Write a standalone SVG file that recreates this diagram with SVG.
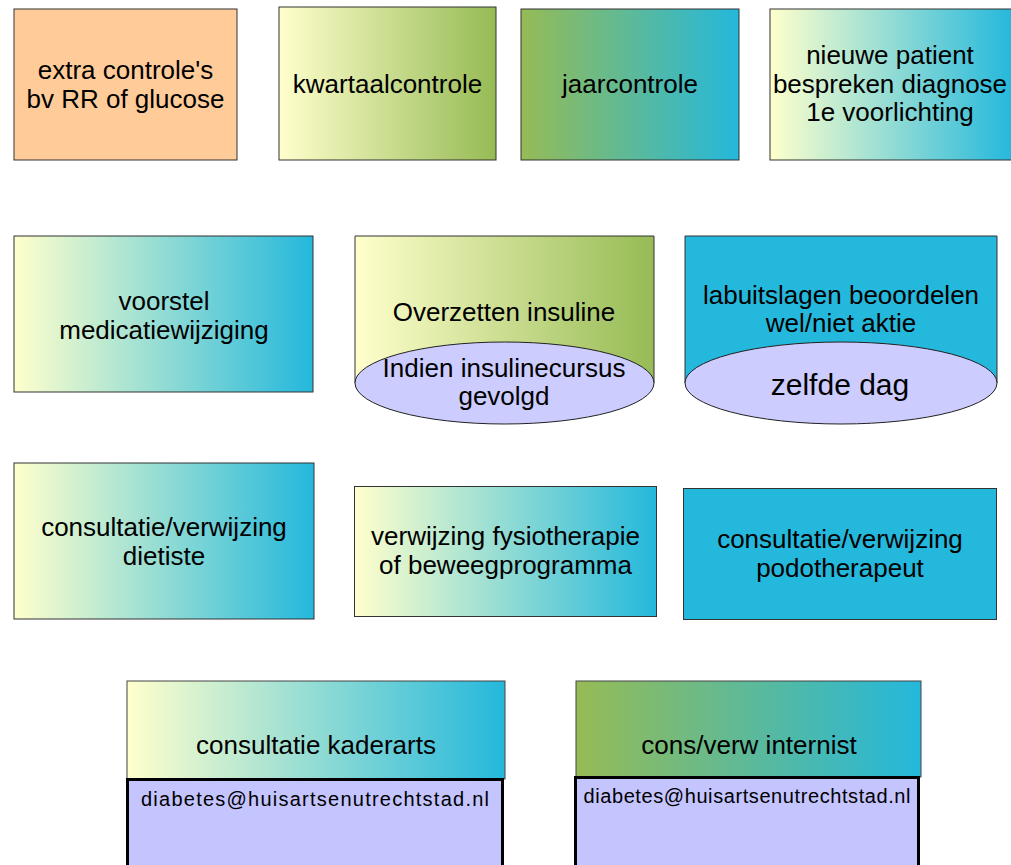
<svg xmlns="http://www.w3.org/2000/svg" width="1011" height="865" viewBox="0 0 1011 865">
<style>
  .box { stroke: #333333; stroke-width: 1; }
  .ell { fill: #CCCCFF; stroke: #222222; stroke-width: 1; }
  .mail { fill: #C4C4FF; stroke: #000000; stroke-width: 3; }
  text { font-family: "Liberation Sans", Arial, sans-serif; font-size: 26px; fill: #000000; text-anchor: middle; }
  .big { font-size: 30px; }
  .small { font-size: 20px; }
</style>
<defs>
  <linearGradient id="gYG" x1="0" y1="0" x2="1" y2="0">
    <stop offset="0" stop-color="#FFFFCC"/>
    <stop offset="1" stop-color="#96BB55"/>
  </linearGradient>
  <linearGradient id="gGC" x1="0" y1="0" x2="1" y2="0">
    <stop offset="0" stop-color="#96BB55"/>
    <stop offset="1" stop-color="#24B8DC"/>
  </linearGradient>
  <linearGradient id="gYC" x1="0" y1="0" x2="1" y2="0">
    <stop offset="0" stop-color="#FFFFCC"/>
    <stop offset="1" stop-color="#24B8DC"/>
  </linearGradient>
</defs>
<rect x="0" y="0" width="1011" height="865" fill="#FFFFFF"/>
<g id="connectors"/>

<g id="extra-controles">
  <rect class="box" x="14" y="9" width="223" height="151" fill="#FFCC99"/>
  <text x="125.5" y="79">extra controle's</text>
  <text x="125.5" y="108">bv RR of glucose</text>
</g>

<g id="kwartaalcontrole">
  <rect class="box" x="279" y="7" width="217" height="153" fill="url(#gYG)"/>
  <text x="387.5" y="93">kwartaalcontrole</text>
</g>

<g id="jaarcontrole">
  <rect class="box" x="521" y="9" width="218" height="151" fill="url(#gGC)"/>
  <text x="630" y="93">jaarcontrole</text>
</g>

<g id="nieuwe-patient">
  <rect class="box" x="770" y="9" width="244" height="151" fill="url(#gYC)"/>
  <text x="890" y="64">nieuwe patient</text>
  <text x="890" y="93">bespreken diagnose</text>
  <text x="890" y="121">1e voorlichting</text>
</g>

<g id="voorstel-medicatie">
  <rect class="box" x="14" y="236" width="299" height="156" fill="url(#gYC)"/>
  <text x="164" y="310">voorstel</text>
  <text x="164" y="339">medicatiewijziging</text>
</g>

<g id="overzetten-insuline">
  <path class="box" d="M355,383 V236 H654 V383" fill="url(#gYG)"/>
  <ellipse class="ell" cx="504.5" cy="383" rx="149.5" ry="41"/>
  <text x="504" y="321">Overzetten insuline</text>
  <text x="504" y="377">Indien insulinecursus</text>
  <text x="504" y="405">gevolgd</text>
</g>

<g id="labuitslagen">
  <path class="box" d="M685,383 V236 H997 V383" fill="#24B8DC"/>
  <ellipse class="ell" cx="841" cy="383" rx="156" ry="41"/>
  <text x="841" y="304">labuitslagen beoordelen</text>
  <text x="841" y="332">wel/niet aktie</text>
  <text class="big" x="840" y="395">zelfde dag</text>
</g>

<g id="dietiste">
  <rect class="box" x="14" y="463" width="300" height="156" fill="url(#gYC)"/>
  <text x="164" y="536">consultatie/verwijzing</text>
  <text x="164" y="565">dietiste</text>
</g>

<g id="fysiotherapie">
  <rect class="box" x="354.5" y="486.5" width="302" height="130" fill="url(#gYC)"/>
  <text x="505.5" y="545">verwijzing fysiotherapie</text>
  <text x="505.5" y="573.5">of beweegprogramma</text>
</g>

<g id="podotherapeut">
  <rect class="box" x="683.5" y="488.5" width="313" height="131" fill="#24B8DC"/>
  <text x="840" y="548">consultatie/verwijzing</text>
  <text x="840" y="577">podotherapeut</text>
</g>

<g id="kaderarts">
  <rect x="127" y="681" width="378" height="98" fill="url(#gYC)" stroke="#444444" stroke-width="1"/>
  <text x="316" y="754">consultatie kaderarts</text>
  <rect class="mail" x="127.5" y="779.5" width="375" height="92"/>
  <text class="small" x="315" y="806" textLength="348" lengthAdjust="spacing">diabetes@huisartsenutrechtstad.nl</text>
</g>

<g id="internist">
  <rect x="576" y="681" width="345" height="96" fill="url(#gGC)" stroke="#444444" stroke-width="1"/>
  <text x="749" y="754">cons/verw internist</text>
  <rect class="mail" x="575.5" y="777.5" width="343" height="94"/>
  <text class="small" x="747" y="803" textLength="327" lengthAdjust="spacing">diabetes@huisartsenutrechtstad.nl</text>
</g>
</svg>
